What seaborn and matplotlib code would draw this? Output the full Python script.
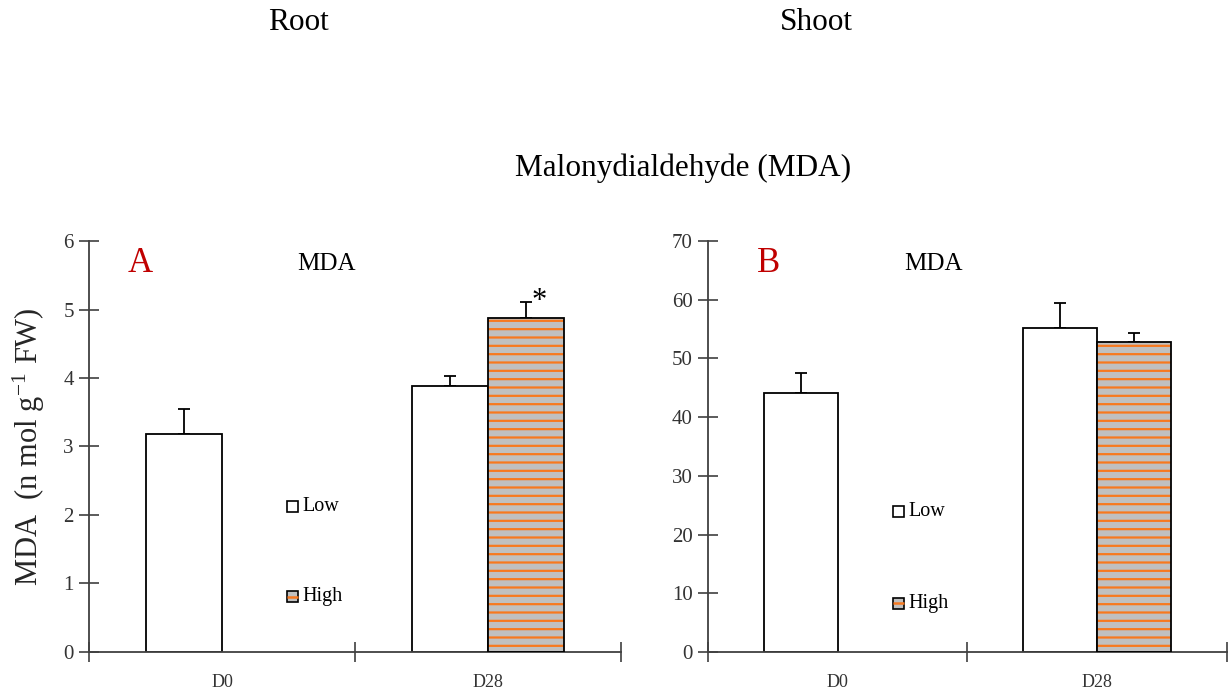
import matplotlib
matplotlib.use("Agg")
import matplotlib.pyplot as plt
from matplotlib.patches import Rectangle
import seaborn as sns
import pandas as pd
import numpy as np

# ---- data ----
days = ["D0", "D28"]
levels = ["Low", "High"]
root_low = [3.18, 3.88]
root_low_err = [0.37, 0.15]
root_high = [np.nan, 4.88]
root_high_err = [np.nan, 0.23]
shoot_low = [44.1, 55.2]
shoot_low_err = [3.4, 4.3]
shoot_high = [np.nan, 52.8]
shoot_high_err = [np.nan, 1.5]
root_yticks = [0, 1, 2, 3, 4, 5, 6]
shoot_yticks = [0, 10, 20, 30, 40, 50, 60, 70]

sns.set_theme(style="white")
plt.rcParams["font.family"] = ["Liberation Serif", "DejaVu Serif"]
plt.rcParams["hatch.linewidth"] = 1.6
plt.rcParams["mathtext.fontset"] = "stix"
plt.rcParams["text.color"] = "black"

fig = plt.figure(figsize=(12.31, 6.93), dpi=100)
axA = fig.add_axes([0.0723, 0.0592, 0.4322, 0.593])
axB = fig.add_axes([0.5751, 0.0592, 0.4216, 0.593])

GREY = "#c0c0c0"
ORANGE = "#f7791f"
AX = "#404040"


def panel(ax, low, low_err, high, high_err, yticks, letter, leg_pos, star,
          letter_x, mda_x):
    rows = []
    for d, l, h in zip(days, low, high):
        rows.append({"day": d, "level": "Low", "val": l})
        if not np.isnan(h):
            rows.append({"day": d, "level": "High", "val": h})
    df = pd.DataFrame(rows)
    sns.barplot(data=df, x="day", y="val", hue="level", order=days,
                hue_order=levels, width=0.57, errorbar=None, ax=ax,
                palette={"Low": "white", "High": GREY},
                edgecolor="black", linewidth=1.3, legend=False, zorder=2)
    for p in list(ax.patches):
        if p.get_height() <= 0 or np.isnan(p.get_height()):
            continue
        fc = p.get_facecolor()
        if fc[0] < 0.9:  # high bars: hatch
            x0, w, h = p.get_x(), p.get_width(), p.get_height()
            p.set_hatch("--")
            p.set_edgecolor(ORANGE)
            p.set_linewidth(0)
            ax.add_patch(Rectangle((x0, 0), w, h, fill=False,
                                   edgecolor="black", linewidth=1.3, zorder=3))
    n = len(days)
    for i in range(n):
        for j, (vals, errs) in enumerate([(low, low_err), (high, high_err)]):
            if np.isnan(vals[i]):
                continue
            xc = i + (-0.1425 if j == 0 else 0.1425)
            ax.errorbar(xc, vals[i], yerr=[[0], [errs[i]]], fmt="none",
                        ecolor="black", elinewidth=1.3, capsize=4,
                        capthick=1.3, zorder=1)
    if star:
        ax.text(1 + 0.1425 + 0.05, high[1] + high_err[1], "*",
                fontsize=22, ha="center", va="center", color="black")

    ax.set_ylim(yticks[0], yticks[-1])
    ax.set_yticks(yticks)
    ax.set_xlim(-0.5, 1.5)
    ax.set_xticks([-0.5, 0.5, 1.5])
    ax.set_xticklabels([])
    ax.set_xticks([0, 1], minor=True)
    ax.set_xticklabels(days, minor=True)
    ax.tick_params(axis="x", which="major", direction="inout", length=14,
                   width=1.2, color=AX, bottom=True)
    ax.tick_params(axis="x", which="minor", length=0, pad=16,
                   labelsize=13, labelcolor="#333333", bottom=True)
    ax.tick_params(axis="y", direction="inout", length=14, width=1.2,
                   color=AX, labelsize=15, labelcolor="#333333", pad=4, left=True)
    ax.set_xlabel("")
    for s in ["top", "right"]:
        ax.spines[s].set_visible(False)
    for s in ["left", "bottom"]:
        ax.spines[s].set_color(AX)
        ax.spines[s].set_linewidth(1.3)
    ax.grid(False)

    ax.text(letter_x, 0.945, letter, transform=ax.transAxes, fontsize=25,
            color="#c00000", ha="center", va="center")
    ax.text(mda_x, 0.945, "MDA", transform=ax.transAxes, fontsize=18,
            ha="center", va="center")
    lx, ly1, ly2 = leg_pos
    sq_w = 11 / ax.bbox.width
    sq_h = 11 / ax.bbox.height
    for lab, yy, fc in [("Low", ly1, "white"), ("High", ly2, GREY)]:
        r = Rectangle((lx - sq_w / 2, yy - sq_h / 2), sq_w, sq_h,
                      transform=ax.transAxes, facecolor=fc,
                      edgecolor="black", linewidth=1.2, clip_on=False,
                      zorder=5)
        ax.add_patch(r)
        if lab == "High":
            ax.plot([lx - sq_w / 2, lx + sq_w / 2], [yy, yy],
                    transform=ax.transAxes, color=ORANGE, lw=1.8,
                    zorder=6, solid_capstyle="butt")
        ax.text(lx + sq_w / 2 + 0.008, yy, lab, transform=ax.transAxes,
                fontsize=14.5, ha="left", va="center")


panel(axA, root_low, root_low_err, root_high, root_high_err, root_yticks,
      "A", (0.383, 0.355, 0.134), True, 0.097, 0.446)
panel(axB, shoot_low, shoot_low_err, shoot_high, shoot_high_err,
      shoot_yticks, "B", (0.368, 0.343, 0.119), False, 0.116, 0.435)

axA.set_ylabel(r"MDA  (n mol g$^{\mathregular{-1}}$ FW)", fontsize=22,
               labelpad=12)
axB.set_ylabel("")

fig.text(298 / 1231, 1 - 22 / 693, "Root", fontsize=22.5, ha="center",
         va="center")
fig.text(816 / 1231, 1 - 22 / 693, "Shoot", fontsize=22.5, ha="center",
         va="center")
fig.text(683 / 1231, 1 - 168 / 693, "Malonydialdehyde (MDA)", fontsize=22.5,
         ha="center", va="center")

fig.savefig("out.png", dpi=100, facecolor="white")
